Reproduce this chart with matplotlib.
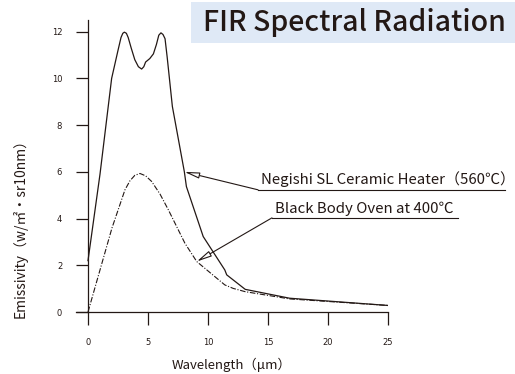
import matplotlib

matplotlib.use("Agg")
import matplotlib.pyplot as plt
from matplotlib.patches import Rectangle

# Negishi SL ceramic heater (solid line)
heater_wl = [0.0, 1.0, 1.97, 2.5, 2.75, 2.9, 3.03, 3.2, 3.35, 3.6, 3.9, 4.2, 4.47, 4.65,
             4.8, 5.15, 5.45, 5.7, 5.9, 6.08, 6.25, 6.42, 6.6, 7.03, 8.03, 8.2, 9.6,
             11.4, 11.56, 13.1, 16.8, 25.0]
heater_val = [2.2, 5.9, 10.0, 11.2, 11.75, 11.93, 11.98, 11.93, 11.75, 11.3, 10.8, 10.5,
              10.4, 10.5, 10.7, 10.85, 11.05, 11.45, 11.85, 11.95, 11.88, 11.7, 10.9,
              8.8, 6.0, 5.37, 3.23, 1.8, 1.59, 0.97, 0.59, 0.28]

# black body oven at 400 C (dash-dot line)
body_wl = [0.0, 1.0, 2.0, 3.08, 3.5, 3.9, 4.33, 4.8, 5.3, 6.0, 6.7, 8.08, 9.06, 11.4,
           12.1, 13.1, 16.8, 25.0]
body_val = [0.0, 1.8, 3.6, 5.23, 5.62, 5.85, 5.93, 5.83, 5.59, 5.05, 4.37, 2.94, 2.16,
            1.16, 1.01, 0.87, 0.56, 0.28]

x_ticks = [0, 5, 10, 15, 20, 25]
y_ticks = [0, 2, 4, 6, 8, 10, 12]

INK = "#231815"
JP = ["Noto Sans CJK JP", "DejaVu Sans"]

fig = plt.figure(figsize=(5.15, 3.74), dpi=100)
ax = fig.add_axes([76 / 515, 62 / 374, 312 / 515, 292 / 374])
ax.set_xlim(-1, 25)
ax.set_ylim(0, 12.5)

ax.plot(heater_wl, heater_val, color=INK, lw=0.9)
ax.plot(body_wl, body_val, color=INK, lw=0.8, linestyle=(0, (5, 1.5, 1, 1.5)))

for side in ("top", "right"):
    ax.spines[side].set_visible(False)
ax.spines["left"].set_position(("data", 0))
ax.spines["left"].set_bounds(0, 12.5)
for side in ("left", "bottom"):
    ax.spines[side].set_color(INK)
    ax.spines[side].set_linewidth(0.9)

ax.set_xticks(x_ticks)
ax.set_yticks(y_ticks)
ax.tick_params(axis="x", direction="out", length=9.5, width=0.9, color=INK, pad=9,
               labelsize=6, labelcolor=INK)
ax.tick_params(axis="y", direction="out", length=8.6, width=0.9, color=INK, pad=10,
               labelsize=6, labelcolor=INK)

ax.set_xlabel("Wavelength（μm）", fontsize=9.5, family=JP, color=INK, labelpad=8)
fig.text(20 / 515, 1 - 225 / 374, "Emissivity（w/㎡・sr10nm）", rotation=90,
         ha="center", va="center", fontsize=10, family=JP, color=INK)

# leader lines with small open arrowheads and underlined labels
arrow = dict(arrowstyle="-|>,head_length=0.9,head_width=0.18", fc="white", ec=INK,
             lw=0.8, shrinkA=0, shrinkB=0)
ax.annotate("", xy=(8.03, 6.0), xytext=(14.17, 5.23), arrowprops=arrow)
ax.plot([14.17, 34.75], [5.23, 5.23], color=INK, lw=0.8, clip_on=False)
ax.text(14.45, 5.33, "Negishi SL Ceramic Heater（560℃）", fontsize=10.8, family=JP,
        color=INK, ha="left", va="bottom")

ax.annotate("", xy=(9.06, 2.16), xytext=(15.33, 4.03), arrowprops=arrow)
ax.plot([15.33, 30.83], [4.03, 4.03], color=INK, lw=0.8, clip_on=False)
ax.text(15.62, 4.13, "Black Body Oven at 400℃", fontsize=10.8, family=JP,
        color=INK, ha="left", va="bottom")

# title banner
fig.patches.append(Rectangle((191 / 515, 1 - 43 / 374), 324 / 515, 41 / 374,
                             transform=fig.transFigure, facecolor="#dfe9f6",
                             edgecolor="none", zorder=0))
fig.text(354 / 515, 1 - 22.5 / 374, "FIR Spectral Radiation", fontsize=20.5, family=JP,
         fontweight="medium", color=INK, ha="center", va="center")

fig.savefig("out.png", dpi=100)
